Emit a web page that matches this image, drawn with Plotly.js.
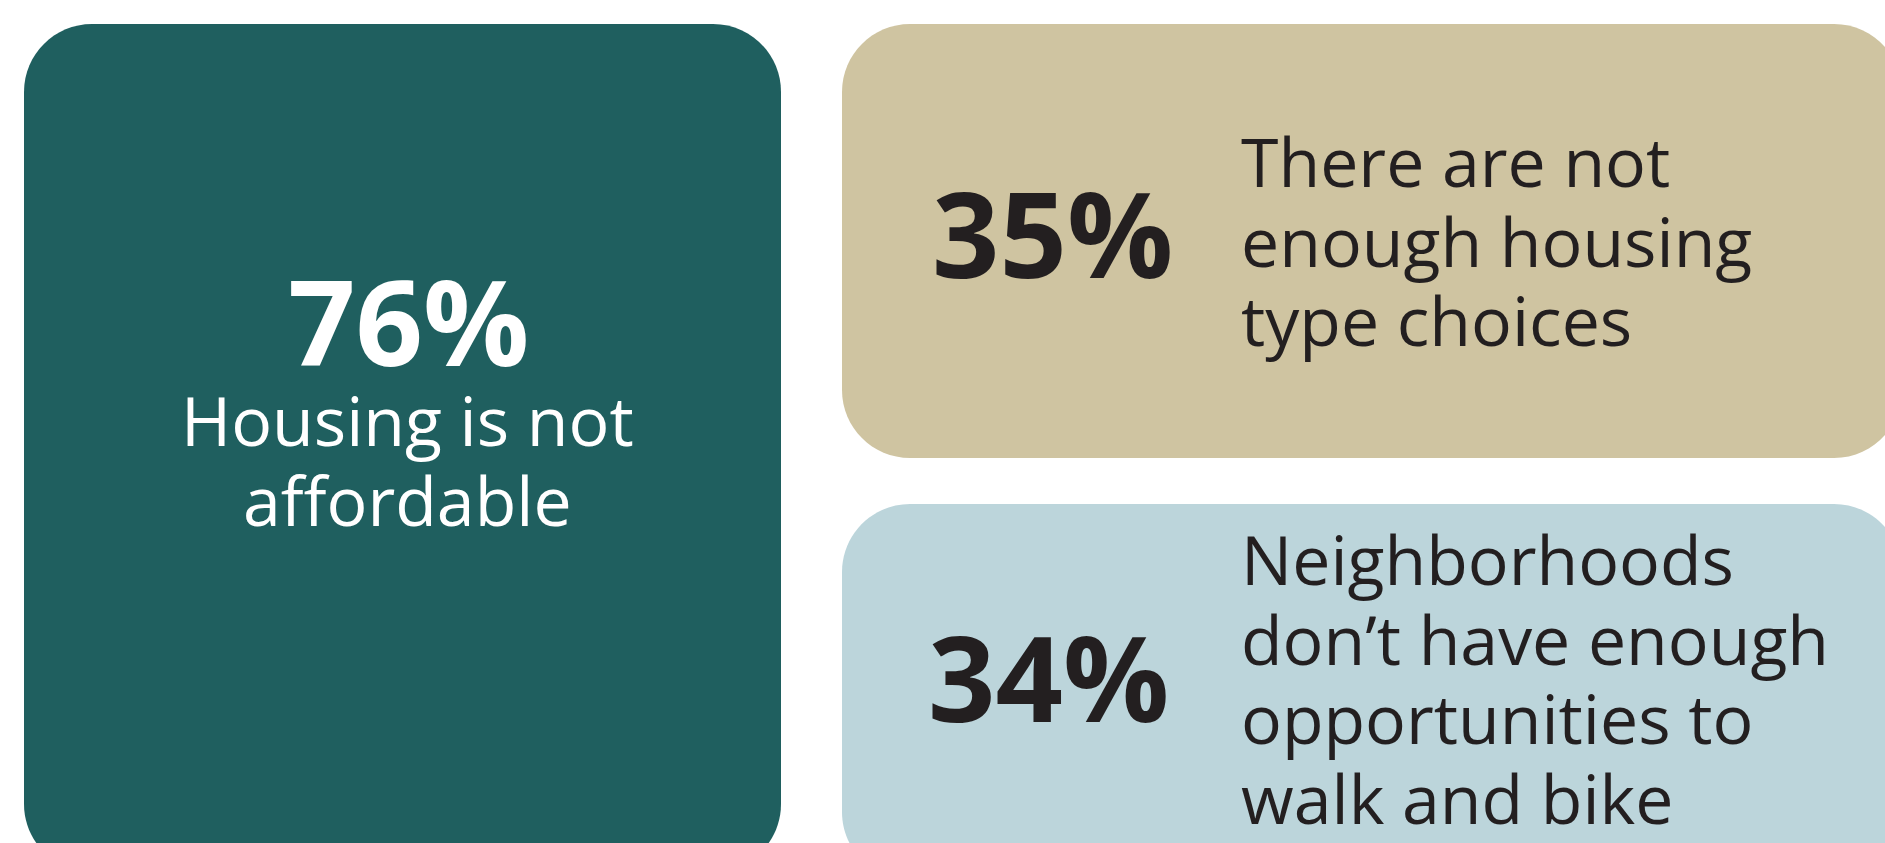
<!DOCTYPE html>
<html>
<head>
<meta charset="utf-8">
<script src="https://cdn.plot.ly/plotly-3.0.1.min.js"></script>
<style>
html,body{margin:0;padding:0;overflow:hidden;background:#ffffff;}
#chart{width:1885px;height:843px;}
</style>
</head>
<body>
<div id="chart"></div>
<script>
// ---- data ----
const values = [76, 35, 34];
const labelLines = [
  ["Housing is not", "affordable"],
  ["There are not", "enough housing", "type choices"],
  ["Neighborhoods", "don\u2019t have enough", "opportunities to", "walk and bike"]
];
const boxColors = ["#1F5F5F", "#CFC4A1", "#BCD5DB"];
const textColors = ["#FFFFFF", "#231F20", "#231F20"];

// ---- layout geometry (pixels) ----
const boxes = [
  {x0: 24, y0: 24, x1: 781, y1: 872},
  {x0: 842, y0: 24, x1: 1902, y1: 458},
  {x0: 842, y0: 504, x1: 1902, y1: 880}
];
const R = 68;
const numFont = 118, lblFont = 68, lineGap = 79.5;
const pos = [
  {numX: 408, numBase: 363, numAnchor: "center", lblX: 407, lblBase: 444, lblAnchor: "center"},
  {numX: 930, numBase: 275, numAnchor: "left", lblX: 1239, lblBase: 185, lblAnchor: "left"},
  {numX: 926, numBase: 719, numAnchor: "left", lblX: 1239, lblBase: 583, lblAnchor: "left"}
];

function roundedRect(b, r) {
  const k = r * 0.4477;
  const {x0, y0, x1, y1} = b;
  return `M ${x0 + r},${y0} L ${x1 - r},${y0} C ${x1 - k},${y0} ${x1},${y0 + k} ${x1},${y0 + r} ` +
         `L ${x1},${y1 - r} C ${x1},${y1 - k} ${x1 - k},${y1} ${x1 - r},${y1} ` +
         `L ${x0 + r},${y1} C ${x0 + k},${y1} ${x0},${y1 - k} ${x0},${y1 - r} ` +
         `L ${x0},${y0 + r} C ${x0},${y0 + k} ${x0 + k},${y0} ${x0 + r},${y0} Z`;
}

const shapes = boxes.map((b, i) => ({
  type: "path", xref: "x", yref: "y", path: roundedRect(b, R),
  fillcolor: boxColors[i], line: {width: 0}, layer: "below"
}));

const annotations = [];
values.forEach((v, i) => {
  const p = pos[i];
  annotations.push({
    x: p.numX, y: p.numBase - 0.36 * numFont, xref: "x", yref: "y",
    text: "<b>" + v + "%</b>", showarrow: false,
    xanchor: p.numAnchor, yanchor: "middle",
    font: {family: "Open Sans, sans-serif", size: numFont, color: textColors[i]}
  });
  labelLines[i].forEach((ln, j) => {
    annotations.push({
      x: p.lblX, y: p.lblBase + j * lineGap - 0.36 * lblFont, xref: "x", yref: "y",
      text: ln, showarrow: false,
      xanchor: p.lblAnchor, yanchor: "middle",
      font: {family: "Open Sans, sans-serif", size: lblFont, color: textColors[i]}
    });
  });
});

const layout = {
  width: 1885, height: 843,
  margin: {l: 0, r: 0, t: 0, b: 0, pad: 0},
  paper_bgcolor: "#ffffff", plot_bgcolor: "#ffffff",
  xaxis: {range: [0, 1885], visible: false, fixedrange: true},
  yaxis: {range: [843, 0], visible: false, fixedrange: true},
  showlegend: false,
  shapes: shapes,
  annotations: annotations
};

Plotly.newPlot("chart", [{x: [0], y: [0], mode: "markers", marker: {opacity: 0}, hoverinfo: "skip"}], layout, {staticPlot: true, displayModeBar: false});
</script>
</body>
</html>
